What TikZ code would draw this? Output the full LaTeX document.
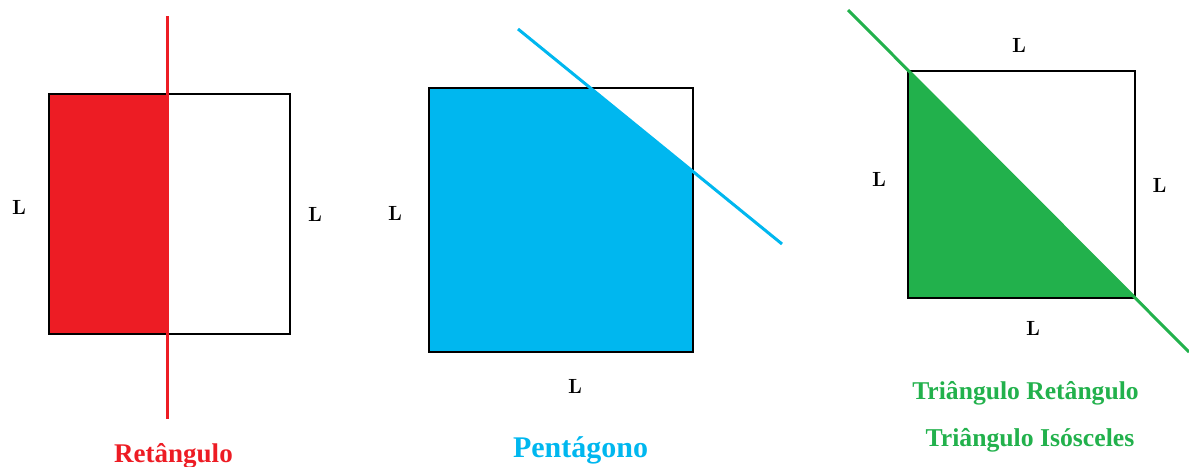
\documentclass[tikz,border=0pt]{standalone}
\usepackage{fontspec}
\newfontfamily\capfont{Liberation Serif}
\definecolor{pred}{HTML}{ED1C24}
\definecolor{pblue}{HTML}{00B7EF}
\definecolor{pgreen}{HTML}{22B14C}
\tikzset{
  sq/.style={draw=black, line width=2pt},
  cutline/.style={line width=3pt},
  side/.style={font=\fontsize{20.5}{20.5}\selectfont\bfseries, inner sep=0pt, anchor=base},
  caption/.style={font=\capfont\bfseries, inner sep=0pt, anchor=base},
}
\begin{document}
\begin{tikzpicture}[x=1pt,y=-1pt]
\useasboundingbox (0,0) rectangle (1189,466);
% ---- left: rectangle
\fill[pred] (49,94) rectangle (167,334);
\draw[sq] (49,94) rectangle (290,334);
\coordinate (r1) at (167,16);
\coordinate (r2) at (167,419);
\draw[cutline, pred] (r1) -- (r2);
\node[side] (la) at (19,214) {L};
\node[side] (lb) at (315,221) {L};
\node[caption, text=pred] (cap1) at (173.5,462) {\fontsize{27}{27}\selectfont Retângulo};
% ---- middle: pentagon
\fill[pblue] (429,88) -- (590,88) -- (693,172) -- (693,352) -- (429,352) -- cycle;
\draw[sq] (429,88) rectangle (693,352);
\coordinate (b1) at (518,29);
\coordinate (b2) at (782,244);
\draw[cutline, pblue] (b1) -- (b2);
\node[side] (lc) at (395,220) {L};
\node[side] (ld) at (575,393) {L};
\node[caption, text=pblue] (cap2) at (580.5,457) {\fontsize{30}{30}\selectfont Pentágono};
% ---- right: triangle
\fill[pgreen] (908,71) -- (908,298) -- (1135,298) -- cycle;
\draw[sq] (908,71) rectangle (1135,298);
\coordinate (g1) at (848,10);
\coordinate (g2) at (1189,352);
\draw[cutline, pgreen] (g1) -- (g2);
\node[side] (le) at (1019,52) {L};
\node[side] (lf) at (879,186) {L};
\node[side] (lg) at (1159.5,192) {L};
\node[side] (lh) at (1033,335) {L};
\node[caption, text=pgreen] (cap3) at (1025.5,399) {\fontsize{25.6}{25.6}\selectfont Triângulo Retângulo};
\node[caption, text=pgreen] (cap4) at (1030,446) {\fontsize{25.7}{25.7}\selectfont Triângulo Isósceles};
\end{tikzpicture}
\end{document}
